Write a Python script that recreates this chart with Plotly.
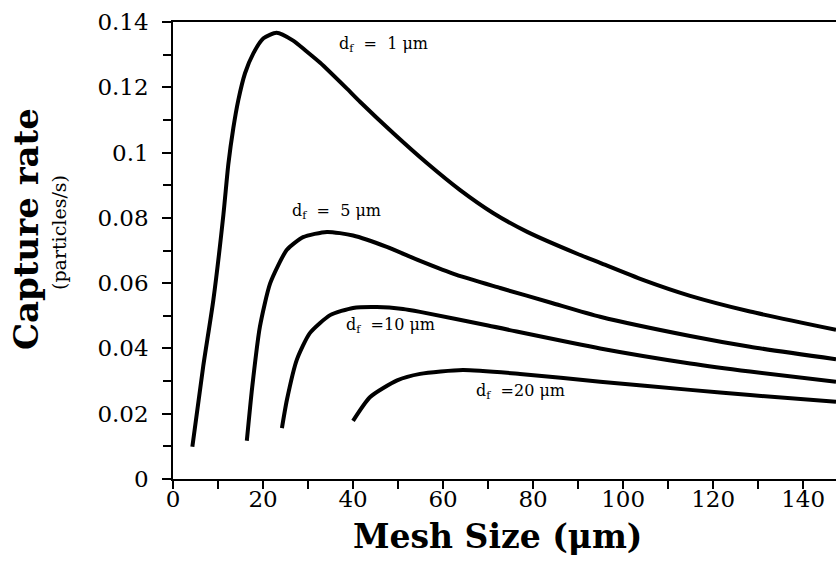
import plotly.graph_objects as go

# ---- data ----
x_df1 = [4.3, 6.7, 8.96, 11.2, 12.3, 13.4, 14.5, 16.0, 17.85, 20.1, 23.0, 26.7, 29.5, 32.7, 38.7, 41.6, 48.9, 56.4, 63.8, 71.1, 78.7, 89.8, 94.9, 104.4, 114.9, 128.2, 147.3]
y_df1 = [0.0099, 0.0344, 0.0548, 0.0810, 0.0965, 0.1075, 0.1160, 0.1243, 0.1304, 0.1350, 0.1367, 0.1343, 0.1312, 0.1275, 0.1195, 0.1155, 0.106, 0.0968, 0.0885, 0.0815, 0.0757, 0.0690, 0.0662, 0.0610, 0.0561, 0.0513, 0.0457]

x_df5 = [16.4, 17.6, 19.3, 21.6, 25.3, 28.9, 34.2, 40, 47.5, 54.9, 63, 72.7, 84, 94.9, 114.9, 128.2, 147.3]
y_df5 = [0.0117, 0.0282, 0.0466, 0.060, 0.0702, 0.0741, 0.0757, 0.0746, 0.0711, 0.0668, 0.0625, 0.0585, 0.0540, 0.0497, 0.0438, 0.0405, 0.0367]

x_df10 = [24.2, 25.3, 27.5, 30.4, 34.9, 40, 45.3, 51.1, 54.9, 70, 94.9, 114.9, 128.2, 147.3]
y_df10 = [0.0156, 0.0242, 0.0365, 0.0447, 0.0502, 0.0524, 0.0527, 0.0521, 0.0512, 0.047, 0.0400, 0.0354, 0.0329, 0.0298]

x_df20 = [40, 43.8, 49.8, 54.9, 64.4, 77.1, 94.9, 114.9, 128.2, 147.3]
y_df20 = [0.0178, 0.0251, 0.0302, 0.0322, 0.0334, 0.0322, 0.0298, 0.0273, 0.0257, 0.0237]

labels = ["d<sub>f</sub>\u00a0\u00a0=\u00a0\u00a01\u00a0μm",
          "d<sub>f</sub>\u00a0\u00a0=\u00a0\u00a05\u00a0μm",
          "d<sub>f</sub>\u00a0\u00a0=10\u00a0μm",
          "d<sub>f</sub>\u00a0\u00a0=20\u00a0μm"]
label_x = [46.7, 36.4, 48.4, 77.1]
label_y = [0.1330, 0.0820, 0.0470, 0.0267]

xticks = [0, 20, 40, 60, 80, 100, 120, 140]
yticks = [0, 0.02, 0.04, 0.06, 0.08, 0.1, 0.12, 0.14]
ytick_text = ["0", "0.02", "0.04", "0.06", "0.08", "0.1", "0.12", "0.14"]

W, H = 836, 561
PL, PT, PR, PB = 173, 22, 836, 479  # plot area in screen pixels
L, T, R, B = PL, PT, W - PR, H - PB
FONT = "DejaVu Serif"

fig = go.Figure()
for xs, ys in [(x_df1, y_df1), (x_df5, y_df5), (x_df10, y_df10), (x_df20, y_df20)]:
    fig.add_trace(go.Scatter(x=xs, y=ys, mode="lines",
                             line=dict(color="black", width=4, shape="spline", smoothing=0.6),
                             showlegend=False, hoverinfo="skip"))

for t, ax, ay in zip(labels, label_x, label_y):
    fig.add_annotation(x=ax, y=ay, xref="x", yref="y", text=t, showarrow=False,
                       xanchor="center", yanchor="middle",
                       font=dict(family=FONT, size=16, color="black"))

pw = PR - PL
ph = PB - PT
def px_to_paper_x(px):
    return (px - PL) / pw
def px_to_paper_y(py):
    return (PB - py) / ph

fig.add_annotation(x=px_to_paper_x(26), y=px_to_paper_y(229), xref="paper", yref="paper",
                   xanchor="center", yanchor="middle",
                   text="<b>Capture rate</b>", textangle=-90, showarrow=False,
                   font=dict(family=FONT, size=34, color="black"))
fig.add_annotation(x=px_to_paper_x(59), y=px_to_paper_y(233), xref="paper", yref="paper",
                   xanchor="center", yanchor="middle",
                   text="(particles/s)", textangle=-90, showarrow=False,
                   font=dict(family=FONT, size=19, color="black"))
fig.add_annotation(x=px_to_paper_x(497), y=px_to_paper_y(536), xref="paper", yref="paper",
                   xanchor="center", yanchor="middle",
                   text="<b>Mesh Size (μm)</b>", showarrow=False,
                   font=dict(family=FONT, size=33, color="black"))

fig.update_layout(
    width=W, height=H,
    margin=dict(l=L, r=R, t=T, b=B, pad=0, autoexpand=False),
    paper_bgcolor="white", plot_bgcolor="white",
    font=dict(family=FONT, color="black"),
    xaxis=dict(range=[0, 147.3], tickmode="array", tickvals=xticks, automargin=False,
               ticks="outside", ticklen=8, tickwidth=1.5, tickcolor="black",
               minor=dict(dtick=10, ticks="outside", ticklen=8, tickwidth=1.5, tickcolor="black"),
               showline=True, linecolor="black", linewidth=1.5, mirror=True,
               showgrid=False, zeroline=False, ticklabelstandoff=-9,
               tickfont=dict(family=FONT, size=23, color="black")),
    yaxis=dict(range=[0, 0.14], tickmode="array", tickvals=yticks, ticktext=ytick_text, automargin=False,
               ticks="outside", ticklen=9, tickwidth=1.5, tickcolor="black",
               minor=dict(dtick=0.01, ticks="outside", ticklen=8, tickwidth=1.5, tickcolor="black"),
               showline=True, linecolor="black", linewidth=1.5,
               showgrid=False, zeroline=False, ticklabelstandoff=9,
               tickfont=dict(family=FONT, size=23, color="black")),
)

fig.write_html("out.html", config={"displayModeBar": False},
               post_script="document.body.style.margin='0';document.body.style.overflow='hidden';")
